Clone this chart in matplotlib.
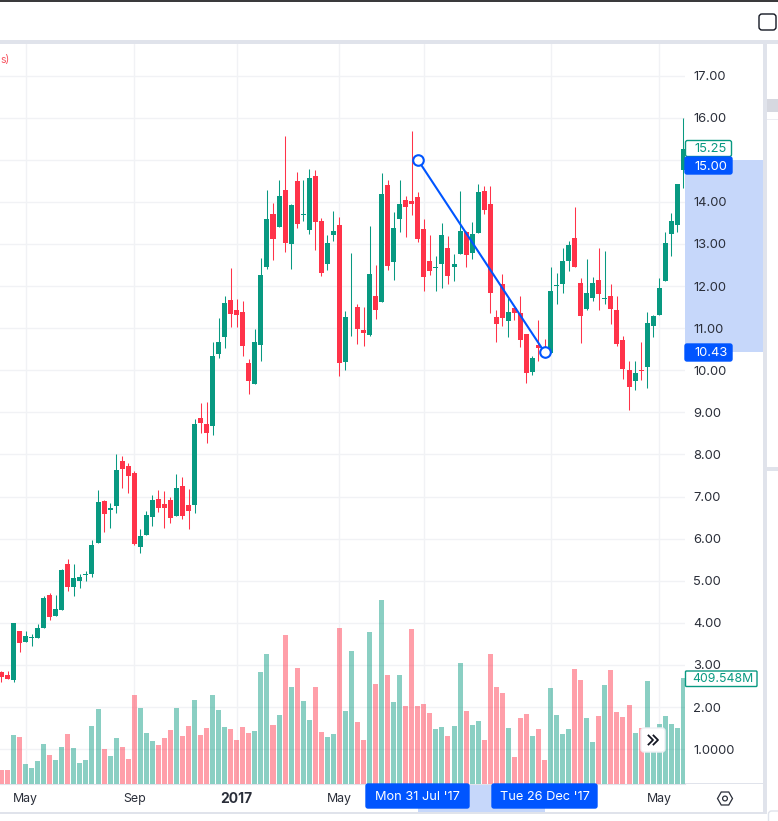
"""Weekly candlestick chart with volume and a price range drawing."""

from matplotlib import pyplot as plt
from matplotlib import patches
import numpy as np

plt.rcParams['font.family'] = ['Inter', 'DejaVu Sans']

opens = [
    2.83, 2.76, 2.64, 3.81, 3.55, 3.65, 3.64, 3.88, 4.66, 4.16, 4.31, 5.40,
    4.85, 5.00, 5.13, 5.16, 5.90, 6.90, 6.68, 6.78, 7.85, 7.73, 7.56, 5.80,
    6.09, 6.52, 6.94, 6.83, 6.92, 6.54, 7.25, 6.80, 6.80, 8.87, 8.73, 8.68,
    10.39, 10.79, 11.67, 11.43, 11.39, 10.17, 9.67, 10.60, 12.45, 13.71,
    13.40, 14.28, 13.00, 14.50, 13.70, 13.33, 14.62, 13.55, 12.53, 13.21,
    13.45, 10.20, 11.42, 11.50, 10.96, 10.84, 11.76, 11.62, 14.40, 12.57,
    13.59, 14.05, 14.02, 14.12, 13.36, 12.60, 12.44, 12.53, 12.90, 12.45,
    12.76, 13.28, 12.79, 13.26, 14.26, 13.95, 11.27, 12.05, 11.17, 11.48,
    11.36, 10.86, 9.96, 10.60, 10.53, 10.41, 12.01, 12.05, 12.60, 13.14,
    12.07, 11.46, 11.72, 12.14, 11.70, 11.76, 11.43, 10.72, 10.01, 9.75,
    10.01, 10.08, 11.05, 11.31, 12.12, 13.24, 13.45, 14.76,
]
highs = [
    2.86, 2.86, 4.00, 3.81, 3.81, 3.74, 3.97, 4.64, 4.71, 4.66, 5.28, 5.52,
    5.40, 5.16, 5.23, 5.97, 7.16, 6.92, 6.85, 8.01, 7.97, 7.80, 7.61, 6.23,
    6.66, 7.04, 7.16, 7.13, 6.99, 7.54, 7.47, 7.18, 8.84, 9.22, 9.25, 10.67,
    11.24, 11.77, 12.43, 11.69, 11.65, 10.27, 10.98, 12.67, 14.28, 13.97,
    14.52, 15.57, 13.95, 14.71, 14.52, 14.78, 14.76, 13.62, 13.21, 13.78,
    13.64, 11.41, 12.79, 11.57, 11.50, 13.43, 12.50, 14.69, 14.52, 13.76,
    14.52, 14.14, 15.68, 14.24, 13.59, 13.21, 12.71, 13.50, 13.19, 12.76,
    14.26, 13.31, 13.52, 14.42, 14.38, 14.38, 11.43, 12.29, 11.72, 11.50,
    11.76, 10.86, 10.34, 11.19, 10.74, 12.45, 12.31, 12.90, 13.07, 13.88,
    12.19, 12.64, 12.22, 12.90, 12.83, 12.05, 11.76, 10.81, 10.22, 10.22,
    10.67, 11.38, 11.31, 12.19, 13.28, 13.74, 14.42, 15.99,
]
lows = [
    2.60, 2.67, 2.60, 3.31, 3.55, 3.45, 3.64, 3.87, 4.07, 4.16, 4.31, 4.76,
    4.64, 4.83, 5.00, 5.09, 5.90, 6.16, 6.26, 6.61, 7.21, 7.09, 5.85, 5.66,
    6.09, 6.30, 6.64, 6.26, 6.37, 6.54, 6.47, 6.23, 6.61, 8.51, 8.27, 8.46,
    10.29, 10.53, 11.03, 11.03, 10.34, 9.44, 9.67, 10.22, 12.41, 12.62,
    13.40, 12.81, 12.41, 13.38, 13.55, 13.24, 12.86, 12.24, 12.38, 13.07,
    9.86, 10.01, 10.82, 10.62, 10.58, 10.82, 11.22, 11.62, 12.38, 12.14,
    13.28, 13.17, 13.69, 13.05, 11.88, 12.26, 11.88, 11.95, 12.05, 12.12,
    12.76, 12.45, 12.64, 13.26, 13.71, 11.36, 10.67, 11.05, 10.79, 11.19,
    10.55, 9.70, 9.89, 10.22, 10.29, 10.41, 11.57, 11.84, 12.36, 12.45,
    10.65, 11.43, 11.65, 11.43, 11.57, 11.10, 10.58, 9.79, 9.06, 9.53,
    9.77, 9.58, 10.79, 11.31, 12.12, 12.71, 13.28, 14.33,
]
closes = [
    2.72, 2.67, 4.00, 3.52, 3.69, 3.67, 3.88, 4.59, 4.14, 4.33, 5.26, 4.85,
    5.07, 5.09, 5.15, 5.85, 6.87, 6.59, 6.73, 7.63, 7.66, 7.49, 5.88, 6.07,
    6.56, 6.92, 6.73, 6.73, 6.49, 7.21, 6.54, 6.66, 8.73, 8.75, 8.51, 10.34,
    10.67, 11.60, 11.34, 11.31, 10.58, 9.75, 10.67, 12.26, 13.59, 13.12,
    14.14, 13.02, 13.93, 13.47, 13.71, 14.57, 13.52, 12.31, 13.02, 13.31,
    10.17, 11.27, 11.43, 10.98, 10.89, 12.29, 11.43, 14.19, 12.48, 13.38,
    13.95, 13.88, 13.95, 13.12, 12.22, 12.36, 12.45, 13.21, 12.24, 12.53,
    13.31, 12.74, 13.24, 14.24, 13.81, 11.84, 11.10, 11.24, 11.38, 11.36,
    10.72, 9.94, 10.29, 10.53, 10.40, 11.88, 12.03, 12.60, 12.98, 12.45,
    11.29, 11.84, 12.07, 11.81, 11.72, 11.46, 10.62, 10.03, 9.60, 9.94,
    9.99, 11.12, 11.29, 11.95, 13.02, 13.55, 14.42, 15.25,
]
# volume in millions
volumes = [
    54.1, 54.1, 189.3, 181.6, 77.3, 61.8, 88.9, 154.6, 112.1, 92.7, 143.0,
    193.2, 139.1, 81.1, 92.7, 224.1, 289.8, 135.2, 108.2, 177.7, 143.0, 96.6,
    343.9, 293.7, 197.1, 166.2, 150.7, 177.7, 208.7, 293.7, 185.5, 224.1,
    324.6, 189.3, 216.4, 343.9, 285.9, 220.2, 212.5, 170.0, 220.2, 197.1,
    204.8, 432.8, 502.3, 228.0, 266.6, 575.7, 374.8, 448.2, 320.7, 247.3,
    374.8, 200.9, 181.6, 193.2, 602.8, 282.1, 513.9, 239.6, 170.0, 587.3,
    386.4, 711.0, 421.2, 316.8, 421.2, 301.4, 598.9, 301.4, 309.1, 274.3,
    212.5, 220.2, 185.5, 224.1, 467.5, 282.1, 228.0, 243.4, 170.0, 502.3,
    374.8, 351.6, 216.4, 104.3, 255.0, 270.5, 185.5, 212.5, 92.7, 370.9,
    266.6, 193.2, 212.5, 444.4, 401.9, 255.0, 162.3, 262.8, 382.5, 440.5,
    278.2, 258.9, 305.3, 197.1, 216.4, 398.0, 195.8, 231.8, 262.8, 231.8,
    216.4, 409.5,
]

price_ticks = list(range(1, 18))
price_tick_labels = [
    '1.0000', '2.00', '3.00', '4.00', '5.00', '6.00', '7.00', '8.00', '9.00',
    '10.00', '11.00', '12.00', '13.00', '14.00', '', '16.00', '17.00',
]
time_ticks = [4, 22, 39, 56, 70, 91, 109]
time_labels = [(4, 'May'), (22, 'Sep'), (39, '2017'), (56, 'May'), (109, 'May')]

# price range drawing
range_start = (69, 15.00)
range_end = (90, 10.43)
range_date_labels = ["Mon 31 Jul '17", "Tue 26 Dec '17"]
last_price_label = '15.25'
last_volume_label = '409.548M'

_GREEN = '#089981'
_RED = '#FF3349'
_BLUE = '#0055FF'
_BAND = '#C6D7FA'
_BORDER = '#E0E3EB'
_GRID = '#F1F2F5'
_TEXT = '#2A2E39'
_PRICE_FONT = 9.3


def _rounded_box(overlay, x, y, w, h, face, edge=None, radius=2.):
    box = patches.FancyBboxPatch(
        (x + radius, y + radius), w - 2 * radius, h - 2 * radius,
        boxstyle=f'round,pad={radius},rounding_size={radius}',
        facecolor=face, edgecolor=edge if edge else face, linewidth=1.)
    overlay.add_patch(box)


def _draw_chrome(overlay):
    overlay.set_xlim(0, 778)
    overlay.set_ylim(821, 0)
    overlay.axis('off')

    # Panel borders
    for x, y, w, h, color in [
            (0, 0, 778, 2, '#3A3A3C'),
            (0, 40, 778, 4, _BORDER),
            (763, 40, 4, 774, _BORDER),
            (0, 812, 767, 2.5, _BORDER),
            (685, 783.5, 78, 1, _BORDER),
            (767, 99, 11, 13, '#D6D8E0'),
            (767, 119, 11, 1, '#ECEDF2'),
            (767, 467, 11, 4, _BORDER),
    ]:
        overlay.add_patch(patches.Rectangle((x, y), w, h, facecolor=color,
                                            edgecolor='none'))
    _rounded_box(overlay, 768.5, 811, 14, 16, 'white', _BORDER, radius=3.)

    # Top right checkbox
    _rounded_box(overlay, 759, 14, 17, 16, 'white', '#131722', radius=3.)

    # Price and volume labels
    _rounded_box(overlay, 685.5, 140.5, 46, 16, 'white', _GREEN)
    overlay.text(694, 149, last_price_label, color=_GREEN,
                 fontsize=_PRICE_FONT, ha='left', va='center')
    _rounded_box(overlay, 685, 157, 47, 17, _BLUE)
    overlay.text(694, 166.5, '15.00', color='white', fontsize=_PRICE_FONT,
                 ha='left', va='center')
    _rounded_box(overlay, 685, 344, 47, 17, _BLUE)
    overlay.text(694, 353, '10.43', color='white', fontsize=_PRICE_FONT,
                 ha='left', va='center')
    _rounded_box(overlay, 685.5, 671, 71.5, 15.5, 'white', _GREEN, radius=1.)
    overlay.text(722.5, 679.5, last_volume_label, color=_GREEN, fontsize=8.8,
                 ha='center', va='center')

    # Date labels of the price range
    for x, w, label in [(366, 103, range_date_labels[0]),
                        (492, 105, range_date_labels[1])]:
        _rounded_box(overlay, x, 784, w, 24, _BLUE)
        overlay.text(x + w / 2, 797.5, label, color='white', fontsize=9.2,
                     ha='center', va='center')

    # Scroll button
    _rounded_box(overlay, 641, 728, 24, 24, 'white', '#EEF0F4', radius=3.)
    overlay.plot([648.5, 653, 648.5], [735.5, 740, 744.5], color='#131722',
                 lw=1.3)
    overlay.plot([653.5, 658, 653.5], [735.5, 740, 744.5], color='#131722',
                 lw=1.3)

    # Settings icon
    overlay.add_patch(patches.RegularPolygon(
        (725, 798.5), 6, radius=7.5, orientation=np.pi / 2, facecolor='none',
        edgecolor=_TEXT, linewidth=0.9))
    overlay.add_patch(patches.Circle(
        (725, 798.5), 2.4, facecolor='none', edgecolor=_TEXT, linewidth=0.9))

    # Legend text at the chart edge
    overlay.text(0.3, 60.5, 's)', color='#F7525F', fontsize=7.5, ha='left',
                 va='center')


def main():
    fig = plt.figure(figsize=(7.78, 8.21), dpi=100)
    rect = [0, 1 - 784 / 821, 685 / 778, 740 / 821]

    # Price axes, pixel scale is fixed by these limits
    ax = fig.add_axes(rect, zorder=1)
    ax.set_xlim(-0.244, 113.28)
    ax.set_ylim(0.173, 17.75)
    ax.set_xticks(time_ticks)
    ax.set_yticks(price_ticks)
    ax.set_yticklabels(price_tick_labels)
    ax.set_xticklabels([])
    ax.yaxis.tick_right()
    ax.tick_params(axis='both', length=0)
    ax.tick_params(axis='y', pad=6., labelsize=_PRICE_FONT, labelcolor=_TEXT)
    ax.grid(color=_GRID, linewidth=1.)
    ax.set_axisbelow(True)
    for side in ['top', 'left', 'right']:
        ax.spines[side].set_visible(False)
    ax.spines['bottom'].set_color(_BORDER)
    ax.spines['bottom'].set_bounds(-0.244, 113.28)

    for i in range(len(opens)):
        color = _GREEN if closes[i] >= opens[i] else _RED
        ax.vlines(i, lows[i], highs[i], color=color, linewidth=0.75)
        body = abs(closes[i] - opens[i])
        ax.bar(i, body, bottom=min(opens[i], closes[i]), width=0.83,
               color=color, linewidth=0)

    # Volume axes, in millions
    ax_volume = fig.add_axes(rect, zorder=2)
    ax_volume.patch.set_visible(False)
    ax_volume.set_xlim(-0.244, 113.28)
    ax_volume.set_ylim(0, 2859)
    ax_volume.axis('off')
    for i, volume in enumerate(volumes):
        color = _GREEN if closes[i] >= opens[i] else _RED
        ax_volume.bar(i, volume, width=0.83, color=color, alpha=0.47,
                      linewidth=0)

    # Price range drawing
    ax.axhspan(range_end[1], range_start[1], xmin=1, xmax=1 + 78 / 685,
               facecolor=_BAND, edgecolor='none', clip_on=False, zorder=0.5)
    ax.axvspan(range_start[0], range_end[0], ymin=-28 / 740, ymax=0,
               facecolor=_BAND, edgecolor='none', clip_on=False, zorder=0.5)

    overlay = fig.add_axes([0, 0, 1, 1], zorder=3)
    overlay.patch.set_visible(False)
    _draw_chrome(overlay)

    ax_line = fig.add_axes(rect, zorder=2.5, sharex=ax, sharey=ax)
    ax_line.patch.set_visible(False)
    ax_line.axis('off')
    ax_line.plot([range_start[0], range_end[0]], [range_start[1], range_end[1]],
                 color=_BLUE, linewidth=1.5, zorder=3)
    ax_line.plot([range_start[0], range_end[0]], [range_start[1], range_end[1]],
                 linestyle='none', marker='o', markersize=7.6,
                 markerfacecolor='white', markeredgecolor=_BLUE,
                 markeredgewidth=1.5, zorder=4)

    for i, label in time_labels:
        x_fig = (1.47 + 6.034 * i) / 778
        is_year = label == '2017'
        fig.text(x_fig, 1 - 798.5 / 821, label, color=_TEXT,
                 fontsize=10. if is_year else 8.9, ha='center', va='center',
                 fontweight='bold' if is_year else 'normal', zorder=4)

    fig.savefig('out.png', dpi=100)


if __name__ == "__main__":
    main()
